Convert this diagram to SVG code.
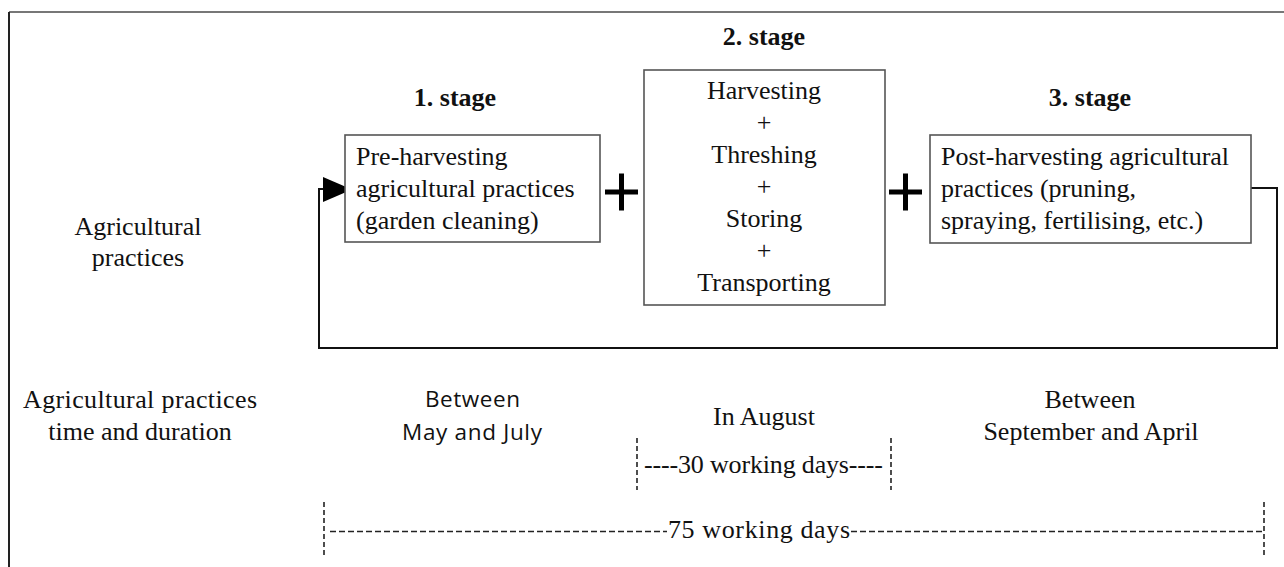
<svg xmlns="http://www.w3.org/2000/svg" width="1284" height="567" viewBox="0 0 1284 567">
<style>
.t{font-family:"Liberation Serif","Times New Roman",serif;font-size:26px;fill:#111}
.b{font-weight:bold}
.s{font-family:"Open Sans","Liberation Sans",sans-serif;font-size:22.5px;fill:#111}
.box{fill:#fff;stroke:#555;stroke-width:1.6}
.plus{stroke:#000;stroke-width:5;fill:none}
.loop{fill:none;stroke:#111;stroke-width:2}
.vd{stroke:#222;stroke-width:1.6;stroke-dasharray:5 3;fill:none}
.hd{stroke:#222;stroke-width:1.6;stroke-dasharray:6 3;fill:none}
</style>
<rect width="1284" height="567" fill="#fff"/>
<g id="frame">
<line x1="9" y1="12" x2="1284" y2="12" stroke="#777" stroke-width="2"/>
<line x1="9" y1="12" x2="9" y2="567" stroke="#222" stroke-width="2"/>
</g>
<g id="row-labels">
<text class="t" x="138" y="235" text-anchor="middle">Agricultural</text>
<text class="t" x="138" y="266" text-anchor="middle">practices</text>
<text class="t" x="140" y="408" text-anchor="middle" textLength="234">Agricultural practices</text>
<text class="t" x="140" y="440" text-anchor="middle">time and duration</text>
</g>
<g id="stage-titles">
<text class="t b" x="455" y="106" text-anchor="middle">1. stage</text>
<text class="t b" x="764" y="45" text-anchor="middle">2. stage</text>
<text class="t b" x="1090" y="106" text-anchor="middle">3. stage</text>
</g>
<g id="connectors">
<path class="loop" d="M1251,188 H1277 V348 H319 V189 H324"/>
<polygon points="323,177 352,189.5 323,202" fill="#000"/>
</g>
<g id="stage1">
<rect class="box" x="345" y="135" width="255" height="107"/>
<text class="t" x="356" y="165">Pre-harvesting</text>
<text class="t" x="356" y="197">agricultural practices</text>
<text class="t" x="356" y="229">(garden cleaning)</text>
</g>
<g id="plus1">
<path class="plus" d="M605,192 H638 M621.5,173.5 V210.5"/>
</g>
<g id="stage2">
<rect class="box" x="644" y="70" width="241" height="235"/>
<text class="t" x="764" y="99" text-anchor="middle">Harvesting</text>
<text class="t" x="764" y="131" text-anchor="middle">+</text>
<text class="t" x="764" y="163" text-anchor="middle">Threshing</text>
<text class="t" x="764" y="195" text-anchor="middle">+</text>
<text class="t" x="764" y="227" text-anchor="middle">Storing</text>
<text class="t" x="764" y="259" text-anchor="middle">+</text>
<text class="t" x="764" y="291" text-anchor="middle">Transporting</text>
</g>
<g id="plus2">
<path class="plus" d="M889,192 H922 M905.5,173.5 V210.5"/>
</g>
<g id="stage3">
<rect class="box" x="930" y="135" width="321" height="108"/>
<text class="t" x="941" y="165">Post-harvesting agricultural</text>
<text class="t" x="941" y="197">practices (pruning,</text>
<text class="t" x="941" y="229">spraying, fertilising, etc.)</text>
</g>
<g id="timing">
<text class="s" x="425" y="407" textLength="95">Between</text>
<text class="s" x="402" y="440" textLength="140">May and July</text>
<text class="t" x="764" y="425" text-anchor="middle">In August</text>
<text class="t" x="1090" y="408" text-anchor="middle">Between</text>
<text class="t" x="1091" y="440" text-anchor="middle">September and April</text>
</g>
<g id="duration30">
<line class="vd" x1="637" y1="438" x2="637" y2="490"/>
<line class="vd" x1="891" y1="438" x2="891" y2="490"/>
<text class="t" x="644" y="473" textLength="239">----30 working days----</text>
</g>
<g id="duration75">
<line class="vd" x1="324" y1="502" x2="324" y2="555"/>
<line class="vd" x1="1264" y1="502" x2="1264" y2="555"/>
<line class="hd" x1="330" y1="531.5" x2="667" y2="531.5"/>
<line class="hd" x1="851" y1="531.5" x2="1262" y2="531.5"/>
<text class="t" x="668" y="538" textLength="182">75 working days</text>
</g>
</svg>
